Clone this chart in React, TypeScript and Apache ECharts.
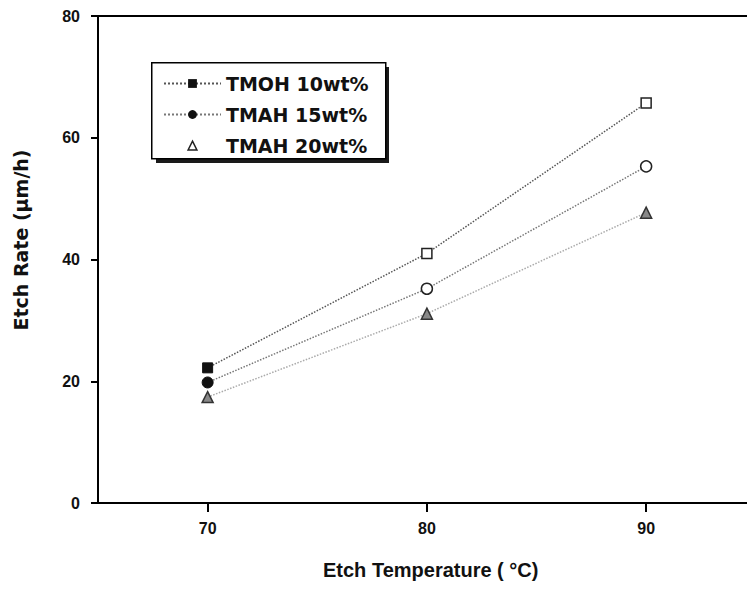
import React, { useEffect, useRef } from "react";
import * as echarts from "echarts";

const temperatures = [70, 80, 90];
const seriesNames = ["TMOH 10wt%", "TMAH 15wt%", "TMAH 20wt%"];
const tmoh10 = [22.2, 41.0, 65.7];
const tmah15 = [19.8, 35.2, 55.3];
const tmah20 = [17.4, 31.1, 47.7];
const yTicks = [0, 20, 40, 60, 80];
const xTicks = [70, 80, 90];
const xTitle = "Etch Temperature ( °C)";
const yTitle = "Etch Rate (μm/h)";

const FONT = "Liberation Sans";
const WIDE = "DejaVu Sans";

export default function App() {
  const ref = useRef<HTMLDivElement>(null);
  useEffect(() => {
    document.body.style.margin = "0";
    const chart = echarts.init(ref.current!, null, { renderer: "svg" });
    const mk = (vals: number[]) =>
      vals.map((v, i) => ({
        value: [temperatures[i], v],
        itemStyle:
          i === 0
            ? { color: "#111", borderColor: "#111", borderWidth: 1 }
            : { color: "#fff", borderColor: "#222", borderWidth: 1.5 },
      }));
    chart.setOption({
      animation: false,
      backgroundColor: "#fff",
      grid: { left: 98, top: 16, right: 0, height: 487 },
      xAxis: [
        {
          type: "value",
          min: 65,
          max: 94.6,
          axisLine: { show: true, lineStyle: { color: "#000", width: 2 } },
          axisTick: { show: true, length: 9, lineStyle: { color: "#000", width: 2 }, customValues: xTicks },
          axisLabel: {
            customValues: xTicks,
            margin: 17,
            fontFamily: FONT,
            fontSize: 16,
            fontWeight: "bold",
            color: "#111",
          },
          splitLine: { show: false },
        },
        {
          type: "value",
          position: "top",
          min: 65,
          max: 94.6,
          axisLine: { show: true, lineStyle: { color: "#000", width: 2 } },
          axisTick: { show: false },
          axisLabel: { show: false },
          splitLine: { show: false },
        },
      ],
      yAxis: {
        type: "value",
        min: 0,
        max: 80,
        interval: 20,
        axisLine: { show: true, lineStyle: { color: "#000", width: 2 } },
        axisTick: { show: true, length: 7, lineStyle: { color: "#000", width: 2 } },
        axisLabel: {
          margin: 18,
          fontFamily: FONT,
          fontSize: 16,
          fontWeight: "bold",
          color: "#111",
          formatter: (v: number) => (yTicks.includes(v) ? String(v) : ""),
        },
        splitLine: { show: false },
      },
      legend: {
        left: 158,
        top: 69,
        orient: "vertical",
        itemGap: 12,
        itemWidth: 57,
        itemHeight: 11,
        z: 10,
        textStyle: { fontFamily: WIDE, fontSize: 19, fontWeight: "bold", color: "#111", lineHeight: 19 },
        data: [
          { name: seriesNames[0], itemStyle: { color: "#111", borderColor: "#111" } },
          { name: seriesNames[1], itemStyle: { color: "#111", borderColor: "#111" } },
          { name: seriesNames[2], itemStyle: { color: "#fff", borderColor: "#222", borderWidth: 1.5 }, lineStyle: { opacity: 0 } },
        ],
      },
      graphic: [
        { type: "rect", left: 156, top: 67, z: 0, shape: { width: 233, height: 96 }, style: { fill: "#1a1a1a" } },
        { type: "rect", left: 151, top: 62, z: 1, shape: { width: 234, height: 96 }, style: { fill: "#fff", stroke: "#000", lineWidth: 1.5 } },
        {
          type: "text",
          left: 323,
          top: 560,
          style: { text: xTitle, fontFamily: FONT, fontSize: 20, fontWeight: "bold", fill: "#111" },
        },
        {
          type: "text",
          x: 21,
          y: 240,
          rotation: Math.PI / 2,
          style: {
            text: yTitle,
            fontFamily: WIDE,
            fontSize: 19,
            fontWeight: "bold",
            fill: "#111",
            align: "center",
            verticalAlign: "middle",
          },
        },
      ],
      series: [
        {
          name: seriesNames[0],
          type: "line",
          symbol: "rect",
          symbolSize: 10,
          z: 5,
          data: mk(tmoh10),
          lineStyle: { color: "#555", width: 1.5, type: "dotted" },
          itemStyle: { color: "#111", borderColor: "#111" },
        },
        {
          name: seriesNames[1],
          type: "line",
          symbol: "circle",
          symbolSize: 11,
          z: 5,
          data: mk(tmah15),
          lineStyle: { color: "#777", width: 1.5, type: "dotted" },
          itemStyle: { color: "#111", borderColor: "#111" },
        },
        {
          name: seriesNames[2],
          type: "line",
          symbol: "triangle",
          symbolSize: 11,
          z: 5,
          data: tmah20.map((v, i) => ({ value: [temperatures[i], v] })),
          lineStyle: { color: "#aaa", width: 1.5, type: "dotted" },
          itemStyle: { color: "#888", borderColor: "#333", borderWidth: 1.5 },
        },
      ],
    });
    return () => chart.dispose();
  }, []);
  return <div ref={ref} style={{ width: 747, height: 589 }} />;
}
